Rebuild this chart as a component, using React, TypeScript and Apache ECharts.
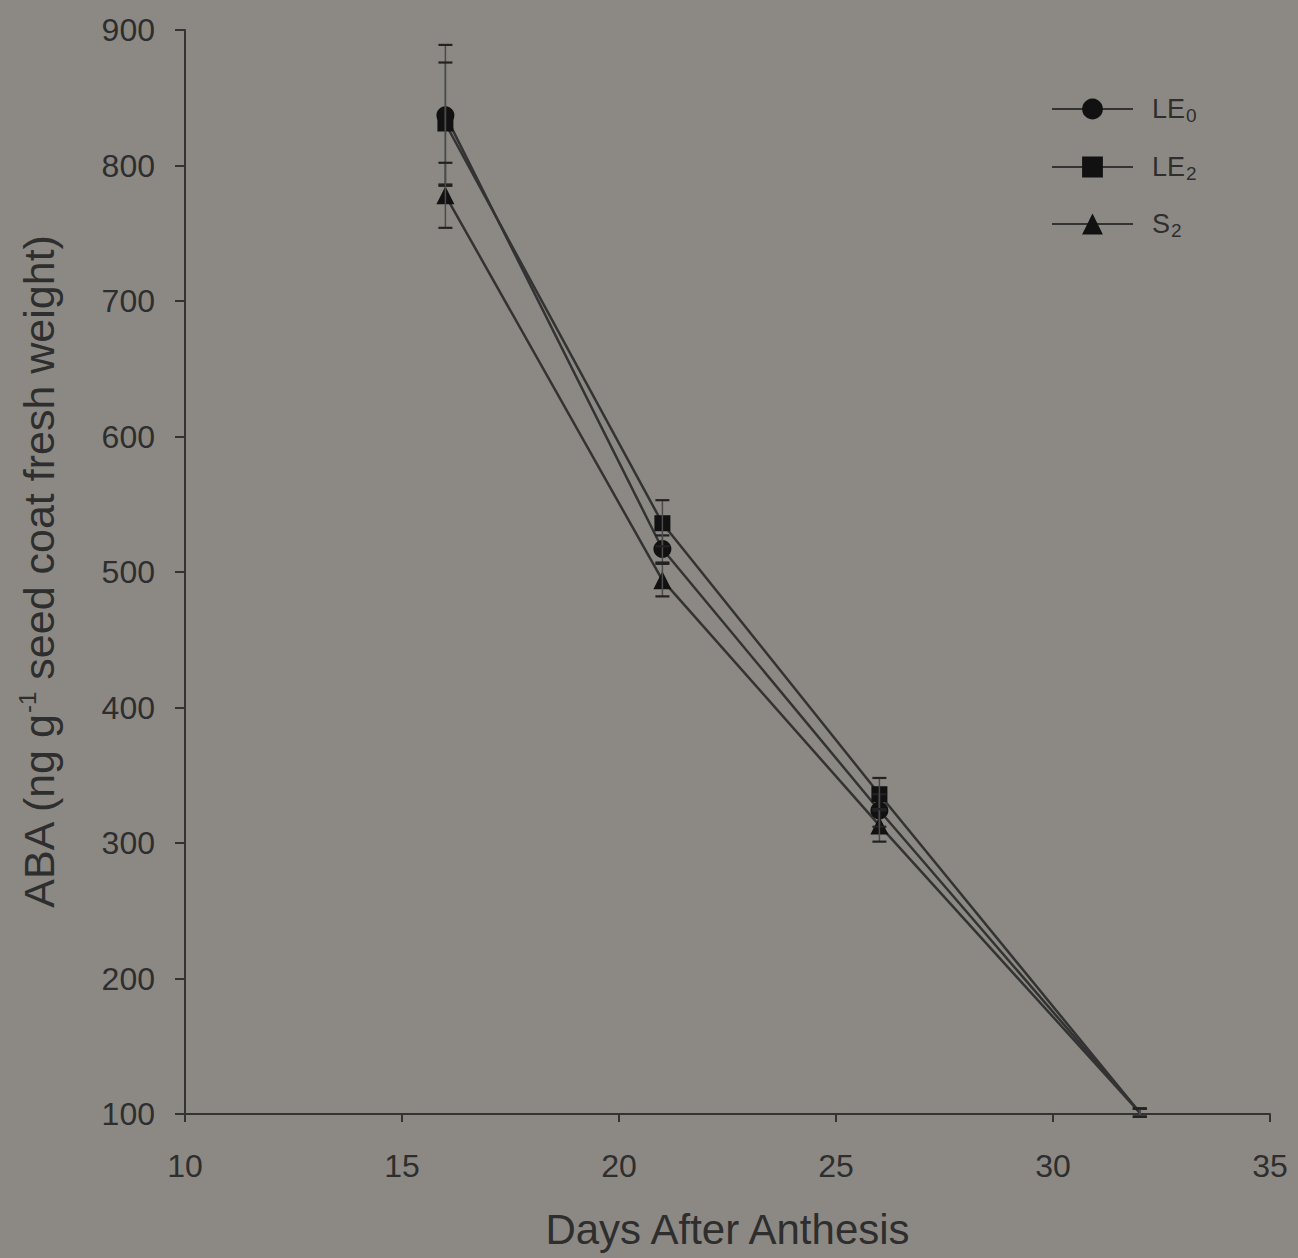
import React, { useEffect, useRef } from "react";
import * as echarts from "echarts";

const days = [16, 21, 26, 32];
const seriesNames = ["LE0", "LE2", "S2"];
const le0 = [837, 517, 324, 101];
const le0Err = [52, 10, 12, 3];
const le2 = [831, 536, 336, 101];
const le2Err = [45, 17, 12, 3];
const s2 = [778, 494, 313, 101];
const s2Err = [24, 12, 12, 3];
const xTicks = { min: 10, max: 35, interval: 5 };
const yTicks = { min: 100, max: 900, interval: 100 };

const BG = "#8c8984";
const INK = "#2e2e2e";
const FONT = "Liberation Sans, Arial, sans-serif";

const legendLabels: Record<string, string> = {
  LE0: "{m|LE}{s|0}",
  LE2: "{m|LE}{s|2}",
  S2: "{m|S}{s|2}",
};

export default function App() {
  const ref = useRef<HTMLDivElement>(null);
  useEffect(() => {
    if (!ref.current) return;
    document.body.style.margin = "0";
    const chart = echarts.init(ref.current, null, { renderer: "svg" });
    const vals = [le0, le2, s2];
    const errs = [le0Err, le2Err, s2Err];
    const symbols = ["circle", "rect", "triangle"];
    const sizes = [18, 16, 18];

    const lineSeries = seriesNames.map((name, i) => ({
      name,
      type: "line",
      data: days.map((d, j) =>
        j === days.length - 1
          ? { value: [d, vals[i][j]], symbol: "none" }
          : [d, vals[i][j]]
      ),
      symbol: symbols[i],
      symbolSize: sizes[i],
      showAllSymbol: true,
      lineStyle: { color: "#333", width: 2.5 },
      itemStyle: { color: "#111" },
      z: 3,
    }));

    const errSeries = seriesNames.map((name, i) => ({
      name: name + "_err",
      type: "custom",
      data: days.map((d, j) => [d, vals[i][j] - errs[i][j], vals[i][j] + errs[i][j]]),
      encode: { x: 0, y: [1, 2] },
      z: 4,
      renderItem: (params: any, api: any) => {
        const x = api.value(0);
        const lo = api.value(1);
        const hi = api.value(2);
        const t = api.coord([x, hi]);
        const b = api.coord([x, lo]);
        const hw = 7;
        return {
          type: "group",
          children: [
            { type: "line", shape: { x1: t[0], y1: t[1], x2: b[0], y2: b[1] }, style: { stroke: "#4a4a4a", lineWidth: 1.5 } },
            { type: "line", shape: { x1: t[0] - hw, y1: t[1], x2: t[0] + hw, y2: t[1] }, style: { stroke: "#222", lineWidth: 2.2 } },
            { type: "line", shape: { x1: b[0] - hw, y1: b[1], x2: b[0] + hw, y2: b[1] }, style: { stroke: "#222", lineWidth: 2.2 } },
          ],
        };
      },
    }));

    const legendRows = [109, 167, 224];
    const legends = seriesNames.map((name, i) => ({
      data: [name],
      left: 1046,
      top: legendRows[i] - 32,
      itemWidth: 81,
      itemHeight: 26,
      selectedMode: false,
      formatter: (n: string) => legendLabels[n],
      textStyle: {
        color: INK,
        fontFamily: FONT,
        rich: {
          m: { fontSize: 27, color: INK, fontFamily: FONT, padding: [0, 0, 0, 14], lineHeight: 32 },
          s: { fontSize: 19, color: INK, fontFamily: FONT, verticalAlign: "bottom", lineHeight: 20, padding: [24, 0, 0, 1] },
        },
      },
    }));

    chart.setOption({
      animation: false,
      backgroundColor: BG,
      textStyle: { fontFamily: FONT },
      grid: { left: 185, right: 28, top: 30, bottom: 144, containLabel: false },
      legend: legends,
      xAxis: {
        type: "value",
        min: xTicks.min,
        max: xTicks.max,
        interval: xTicks.interval,
        name: "Days After Anthesis",
        nameLocation: "middle",
        nameGap: 94,
        nameTextStyle: { fontSize: 42, color: INK, fontFamily: FONT },
        axisLine: { show: true, lineStyle: { color: "#333", width: 2 } },
        axisTick: { show: true, inside: false, length: 8, lineStyle: { color: "#333", width: 2 } },
        axisLabel: { fontSize: 32, color: INK, margin: 36, fontFamily: FONT },
        splitLine: { show: false },
      },
      yAxis: {
        type: "value",
        min: yTicks.min,
        max: yTicks.max,
        interval: yTicks.interval,
        name: "{a|ABA (ng g}{sup|-1}{a| seed coat fresh weight)}",
        nameLocation: "middle",
        nameGap: 122,
        nameRotate: 90,
        nameTextStyle: {
          fontSize: 43,
          color: INK,
          fontFamily: FONT,
          rich: {
            a: { fontSize: 43, color: INK, fontFamily: FONT, lineHeight: 48 },
            sup: { fontSize: 24, color: INK, fontFamily: FONT, verticalAlign: "top", lineHeight: 48, padding: [0, 0, 14, 0] },
          },
        },
        axisLine: { show: true, lineStyle: { color: "#333", width: 2 } },
        axisTick: { show: true, inside: false, length: 10, lineStyle: { color: "#333", width: 2 } },
        axisLabel: { fontSize: 32, color: INK, margin: 30, fontFamily: FONT },
        splitLine: { show: false },
      },
      series: [...lineSeries, ...errSeries],
    });
    return () => chart.dispose();
  }, []);
  return <div ref={ref} style={{ width: 1298, height: 1258 }} />;
}
